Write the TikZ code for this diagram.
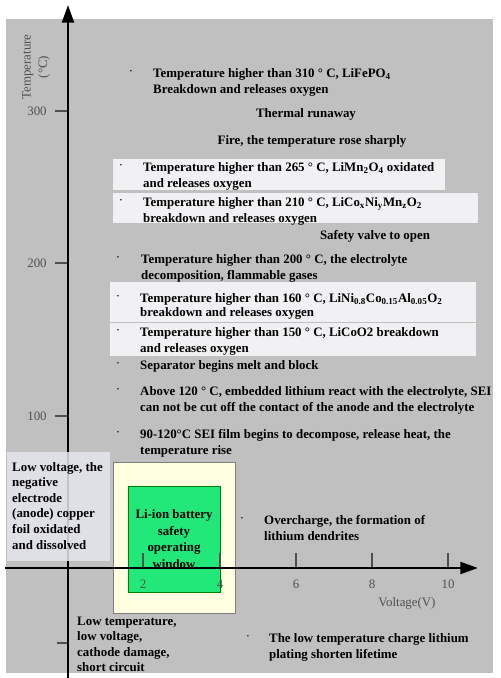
\documentclass[tikz,border=0pt]{standalone}
\usepackage{fontspec}
\setmainfont{Liberation Serif}
\usetikzlibrary{arrows.meta,positioning}
\definecolor{chartgray}{RGB}{192,192,192}
\definecolor{bandwhite}{RGB}{241,241,244}
\definecolor{lowblue}{RGB}{228,230,236}
\definecolor{winyellow}{RGB}{255,255,226}
\definecolor{wingreen}{RGB}{34,232,122}
\definecolor{tickgray}{RGB}{80,80,80}

\begin{document}
\begin{tikzpicture}[x=0.03cm,y=-0.03cm,
item/.style={anchor=north west, inner sep=0pt, align=left,
font=\bfseries\fontsize{11}{14}\selectfont},
head/.style={inner sep=0pt, font=\bfseries\fontsize{11}{14}\selectfont},
dotmark/.style={inner sep=0pt, font=\fontsize{11}{14}\selectfont},
band/.style={fill=bandwhite},
axis/.style={line width=2.4pt, -{Triangle[length=15pt,width=10pt]}},
tickline/.style={draw=tickgray, line width=0.9pt},
ticklab/.style={text=tickgray, inner sep=0pt, font=\fontsize{11}{14}\selectfont}
]

\useasboundingbox (0,0) rectangle (500,678);
\fill[chartgray] (6,19) rectangle (493,673);

% white bands behind the oxygen release items
\fill[band] (113,159) rectangle (445,190);
\fill[band] (113,193) rectangle (478,223);
\fill[band] (110,282) rectangle (476,322);
\fill[band] (110,323) rectangle (476,356);

% operating window
\filldraw[fill=winyellow, draw=gray, line width=0.4pt] (113,462) rectangle (235,613);
\filldraw[fill=wingreen, draw=green!50!black, line width=0.4pt] (128,486) rectangle (220,592);

% axes
\coordinate (ybot) at (68,678);
\coordinate (ytop) at (68,5);
\coordinate (xleft) at (5,568);
\coordinate (xright) at (478,568);
\draw[axis] (ybot) -- (ytop);
\draw[axis] (xleft) -- (xright);

\foreach \yy/\lab in {111/300,263/200,416/100} {
  \draw[tickline] (55,\yy) -- (67,\yy);
  \node[ticklab] at (37,\yy) {\lab};
}
\draw[tickline] (57,643) -- (67,643);
\foreach \xx/\lab in {143/2,220/4,296/6,372/8,448/10} {
  \draw[tickline] (\xx,553) -- (\xx,567);
  \node[ticklab] at (\xx,584) {\lab};
}

\node[ticklab, rotate=90, align=center] (ylab) at (36,67) {Temperature\\(°C)};
\node[ticklab] (xlab) at (407,603) {Voltage(V)};

% low voltage box over the axis
\fill[lowblue, opacity=0.85] (7,452) rectangle (110,561);

% events along the temperature axis
\node[dotmark] (d310) at (131,73) {·};
\node[item] (i310) at (153,68)
{Temperature higher than 310 ° C, LiFePO\textsubscript{4}\\
Breakdown and  releases  oxygen};
\node[head] (runaway) at (306,114) {Thermal runaway};
\node[head] (fire) at (312,141) {Fire, the temperature rose sharply};

\node[dotmark] (d265) at (121,167) {·};
\node[item] (i265) at (143,162)
{Temperature higher than 265 ° C, LiMn\textsubscript{2}O\textsubscript{4} oxidated\\
and releases oxygen};

\node[dotmark] (d210) at (121,202) {·};
\node[item] (i210) at (143,197)
{Temperature higher than 210 ° C, LiCo\textsubscript{x}Ni\textsubscript{y}Mn\textsubscript{z}O\textsubscript{2}\\
breakdown and releases oxygen};

\node[head] (valve) at (375,236) {Safety valve to open};

\node[dotmark] (d200) at (118,259) {·};
\node[item] (i200) at (141,254)
{Temperature higher than 200 ° C, the electrolyte\\
decomposition, flammable gases};

\node[dotmark] (d160) at (118,298) {·};
\node[item, font=\bfseries\fontsize{11}{12.5}\selectfont] (i160) at (140,293)
{Temperature higher than 160 ° C,  LiNi\textsubscript{0.8}Co\textsubscript{0.15}Al\textsubscript{0.05}O\textsubscript{2}\\
breakdown and  releases oxygen};

\node[dotmark] (d150) at (118,332) {·};
\node[item] (i150) at (140,327)
{Temperature higher than 150 ° C, LiCoO2  breakdown\\
and releases  oxygen};

\node[dotmark] (dsep) at (118,365) {·};
\node[item] (isep) at (140,360) {Separator begins melt and block};

\node[dotmark] (d120) at (118,391) {·};
\node[item] (i120) at (140,386)
{Above 120 ° C, embedded lithium react with the electrolyte, SEI\\
can not be cut off the contact of the anode and the electrolyte};

\node[dotmark] (d90) at (118,434) {·};
\node[item] (i90) at (140,429)
{90-120°C  SEI film begins to decompose, release heat, the\\
temperature rise};

% events along the voltage axis
\node[item, font=\bfseries\fontsize{11}{13.3}\selectfont] (lowv) at (12,462)
{Low voltage, the\\negative\\electrode\\(anode) copper\\foil oxidated\\and dissolved};

\node[head, align=center] (window) at (174,539)
{Li-ion battery\\safety\\operating\\window};

\node[dotmark] (dover) at (242,520) {·};
\node[item] (over) at (264,515)
{Overcharge, the formation of\\lithium dendrites};

\node[item, font=\bfseries\fontsize{11}{13}\selectfont] (lowt) at (77,617)
{Low temperature,\\low voltage,\\cathode damage,\\short circuit};

\node[dotmark] (dcold) at (248,638) {·};
\node[item] (cold) at (269,633)
{The low temperature charge lithium\\plating shorten lifetime};

\end{tikzpicture}
\end{document}
